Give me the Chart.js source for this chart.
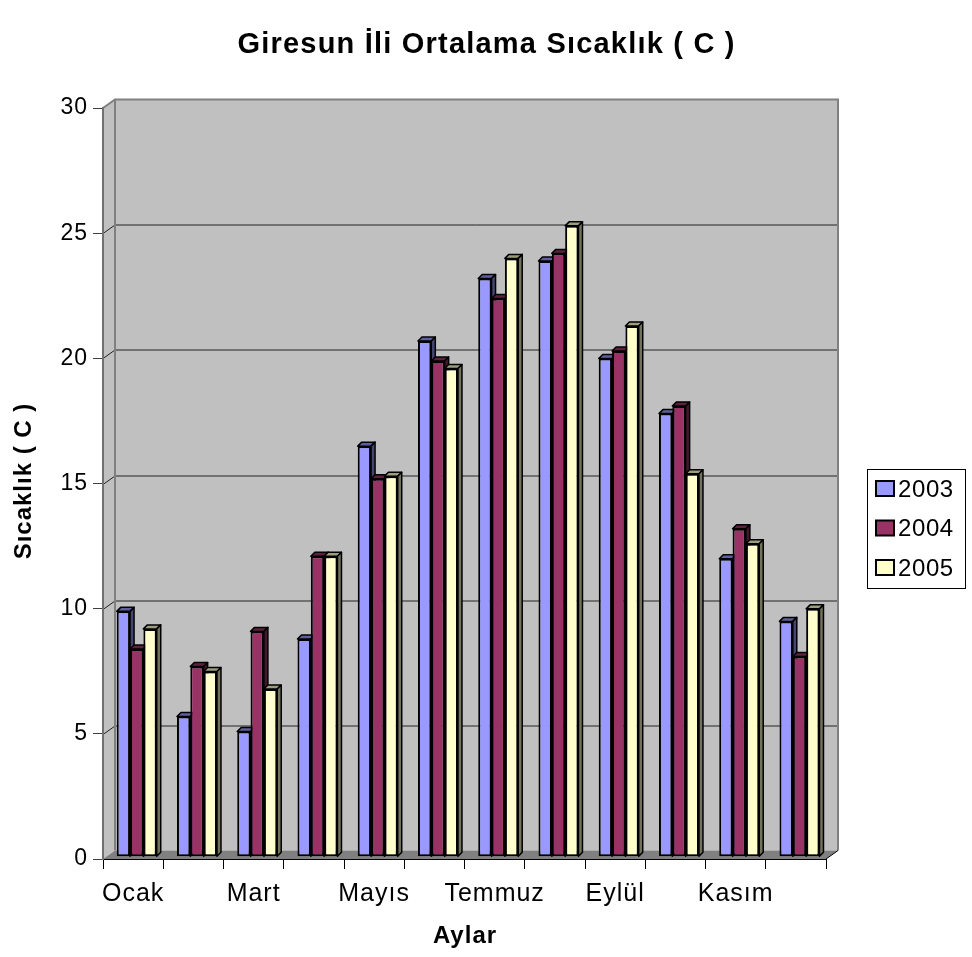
<!DOCTYPE html>
<html>
<head>
<meta charset="utf-8">
<title>Giresun İli Ortalama Sıcaklık</title>
<script src="https://cdn.jsdelivr.net/npm/chart.js@4/dist/chart.umd.min.js"></script>
<style>
  html, body { margin: 0; padding: 0; background: #ffffff; }
  #wrap { width: 972px; height: 957px; }
</style>
</head>
<body>
<div id="wrap"><canvas id="chart" width="972" height="957"></canvas></div>
<script>
// Months (category axis) – every other one carries a visible label
const months = ['Ocak', 'Şubat', 'Mart', 'Nisan', 'Mayıs', 'Haziran',
                'Temmuz', 'Ağustos', 'Eylül', 'Ekim', 'Kasım', 'Aralık'];

// Monthly mean temperature (°C) per year
const temps2003 = [9.8, 5.6, 5.0, 8.7, 16.4, 20.6, 23.1, 23.8, 19.9, 17.7, 11.9, 9.4];
const temps2004 = [8.3, 7.6, 9.0, 12.0, 15.1, 19.8, 22.3, 24.1, 20.2, 18.0, 13.1, 8.0];
const temps2005 = [9.1, 7.4, 6.7, 12.0, 15.2, 19.5, 23.9, 25.2, 21.2, 15.3, 12.5, 9.9];

const seriesNames = ['2003', '2004', '2005'];
const yTicks = [0, 5, 10, 15, 20, 25, 30];

const chartTitle = 'Giresun İli Ortalama Sıcaklık ( C )';
const yTitle = 'Sıcaklık ( C )';
const xTitle = 'Aylar';

// ---- styling ----
const FONT = '"Liberation Sans", Arial, Helvetica, sans-serif';
const fills = ['#9999FF', '#993366', '#FFFFCC'];
const WALL = '#C0C0C0';
const FLOOR = '#808080';
const WALL_EDGE = '#808080';
const DEPTH_X = 12, DEPTH_Y = 8.5;     // depth of the box behind the plot
const BAR_DX = 4, BAR_DY = 4;          // depth of each column
const BAR_SHIFT_X = 3.6, BAR_SHIFT_Y = -2.3; // columns sit a little into the box

function shade(hex, f) {
  const n = parseInt(hex.slice(1), 16);
  const r = Math.round(((n >> 16) & 255) * f);
  const g = Math.round(((n >> 8) & 255) * f);
  const b = Math.round((n & 255) * f);
  return `rgb(${r},${g},${b})`;
}

function poly(ctx, pts) {
  ctx.beginPath();
  ctx.moveTo(pts[0][0], pts[0][1]);
  for (let i = 1; i < pts.length; i++) ctx.lineTo(pts[i][0], pts[i][1]);
  ctx.closePath();
}

function spacedText(ctx, text, x, y, font, spacing, align, baseline) {
  ctx.font = font;
  ctx.letterSpacing = spacing + 'px';
  ctx.textAlign = align;
  ctx.textBaseline = baseline;
  ctx.fillStyle = '#000';
  // trailing letter spacing would shift centred text left; compensate
  const dx = align === 'center' ? spacing / 2 : 0;
  ctx.fillText(text, x + dx, y);
}

const box3d = {
  id: 'box3d',
  beforeDraw(chart) {
    const { ctx, chartArea: a, scales: { y } } = chart;
    ctx.save();
    ctx.fillStyle = '#ffffff';
    ctx.fillRect(0, 0, chart.width, chart.height);

    const bl = a.left + DEPTH_X, br = a.right + DEPTH_X;
    const bt = a.top - DEPTH_Y, bb = a.bottom - DEPTH_Y;

    // side wall
    ctx.fillStyle = WALL;
    poly(ctx, [[a.left, a.top], [bl, bt], [bl, bb], [a.left, a.bottom]]);
    ctx.fill();
    // back wall
    ctx.fillRect(bl, bt, br - bl, bb - bt);
    // floor
    ctx.fillStyle = FLOOR;
    poly(ctx, [[a.left, a.bottom], [bl, bb], [br, bb], [a.right, a.bottom]]);
    ctx.fill();

    // gridlines on the back wall, joined to the front axis
    ctx.strokeStyle = '#222';
    ctx.lineWidth = 1;
    y.ticks.forEach(t => {
      if (t.value <= 0 || t.value >= y.max) return;
      const py = Math.round(y.getPixelForValue(t.value)) + 0.5;
      ctx.beginPath();
      ctx.moveTo(a.left, py);
      ctx.lineTo(bl, py - DEPTH_Y);
      ctx.lineTo(br, py - DEPTH_Y);
      ctx.stroke();
    });

    // wall edges
    ctx.strokeStyle = WALL_EDGE;
    ctx.lineWidth = 2;
    ctx.beginPath();
    ctx.moveTo(a.left, a.top);
    ctx.lineTo(bl, bt);
    ctx.lineTo(br, bt);
    ctx.lineTo(br, bb);
    ctx.moveTo(bl, bt);
    ctx.lineTo(bl, bb);
    ctx.stroke();
    // floor edge on the right
    ctx.strokeStyle = '#000';
    ctx.lineWidth = 1;
    ctx.beginPath();
    ctx.moveTo(a.right, a.bottom);
    ctx.lineTo(br, bb);
    ctx.stroke();
    ctx.restore();

    // tick labels are rendered with slightly open spacing
    ctx.letterSpacing = '1px';
  },
  beforeDatasetsDraw(chart) {
    const ctx = chart.ctx;
    const metas = chart.data.datasets.map((_, i) => chart.getDatasetMeta(i));
    ctx.save();
    ctx.letterSpacing = '0px';
    ctx.translate(BAR_SHIFT_X, BAR_SHIFT_Y);
    const n = chart.data.labels.length;
    for (let i = 0; i < n; i++) {
      metas.forEach((meta, d) => {
        const el = meta.data[i];
        if (!el) return;
        const { x, y, base, width } = el.getProps(['x', 'y', 'base', 'width'], true);
        const l = x - width / 2, r = x + width / 2;
        const col = fills[d];
        // front face through the bar element itself
        el.draw(ctx);
        ctx.lineWidth = 1.5;
        ctx.strokeStyle = '#000';
        ctx.lineJoin = 'round';
        // top face
        ctx.fillStyle = shade(col, 0.62);
        poly(ctx, [[l, y], [l + BAR_DX, y - BAR_DY], [r + BAR_DX, y - BAR_DY], [r, y]]);
        ctx.fill(); ctx.stroke();
        // right side face
        ctx.fillStyle = shade(col, 0.45);
        poly(ctx, [[r, y], [r + BAR_DX, y - BAR_DY], [r + BAR_DX, base - BAR_DY], [r, base]]);
        ctx.fill(); ctx.stroke();
      });
    }
    ctx.restore();
    return false;
  },
  afterDraw(chart) {
    const { ctx, chartArea: a } = chart;
    ctx.save();
    // chart title
    spacedText(ctx, chartTitle, 486, 45, `bold 29px ${FONT}`, 1.2, 'center', 'middle');
    // x axis title
    spacedText(ctx, xTitle, (a.left + a.right) / 2, 936, `bold 24px ${FONT}`, 1, 'center', 'middle');
    // y axis title (rotated)
    ctx.save();
    ctx.translate(24, (a.top + a.bottom) / 2 - 2);
    ctx.rotate(-Math.PI / 2);
    spacedText(ctx, yTitle, 0, 0, `bold 24px ${FONT}`, 1, 'center', 'middle');
    ctx.restore();

    // legend
    const lx = 867, ly = 469, lw = 98, lh = 119;
    ctx.letterSpacing = '0px';
    ctx.fillStyle = '#fff';
    ctx.fillRect(lx, ly, lw, lh);
    ctx.strokeStyle = '#000';
    ctx.lineWidth = 1;
    ctx.strokeRect(lx + 0.5, ly + 0.5, lw, lh);
    chart.data.datasets.forEach((ds, i) => {
      const cy = 489 + i * 39.5;
      ctx.fillStyle = ds.backgroundColor;
      ctx.fillRect(876, cy - 8, 18, 15);
      ctx.lineWidth = 2;
      ctx.strokeStyle = '#000';
      ctx.strokeRect(876, cy - 8, 18, 15);
      spacedText(ctx, ds.label, 898, cy + 1, `24px ${FONT}`, 0.6, 'left', 'middle');
    });
    ctx.restore();
  }
};

const datasets = [temps2003, temps2004, temps2005].map((vals, i) => ({
  label: seriesNames[i],
  data: vals,
  backgroundColor: fills[i],
  borderColor: '#000000',
  borderWidth: 2,
  borderSkipped: false,
  categoryPercentage: 0.664,
  barPercentage: 1.0
}));

new Chart(document.getElementById('chart'), {
  type: 'bar',
  data: { labels: months, datasets },
  plugins: [box3d],
  options: {
    responsive: false,
    animation: false,
    devicePixelRatio: 1,
    layout: { padding: { top: 108, right: 146, left: 0, bottom: 0 } },
    plugins: {
      legend: { display: false },
      title: { display: false },
      tooltip: { enabled: false }
    },
    scales: {
      x: {
        offset: true,
        grid: { display: true, offset: true, drawOnChartArea: false, drawTicks: true, tickLength: 10, tickColor: '#000', tickWidth: 1 },
        border: { display: true, color: '#000', width: 1 },
        ticks: {
          autoSkip: false,
          maxRotation: 0,
          minRotation: 0,
          padding: 10,
          color: '#000',
          font: { family: FONT, size: 25 },
          callback: (v, i) => (i % 2 === 0 ? months[i] : '')
        },
        afterFit: s => { s.height = 98; }
      },
      y: {
        min: yTicks[0],
        max: yTicks[yTicks.length - 1],
        afterBuildTicks: s => { s.ticks = yTicks.map(v => ({ value: v })); },
        grid: { display: true, drawOnChartArea: false, drawTicks: true, tickLength: 10, tickColor: '#404040', tickWidth: 1 },
        border: { display: true, color: '#707070', width: 2 },
        ticks: {
          padding: 5,
          color: '#000',
          font: { family: FONT, size: 23 }
        },
        afterFit: s => { s.width = 103; }
      }
    }
  }
});
</script>
</body>
</html>
